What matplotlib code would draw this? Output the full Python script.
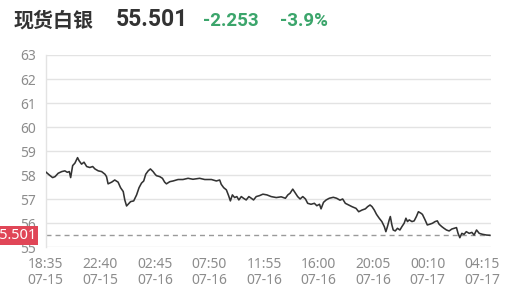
import matplotlib
matplotlib.use("Agg")
import matplotlib.pyplot as plt

# ---- data ----
title_name = "现货白银"
last_price = "55.501"
change = "-2.253"
change_pct = "-3.9%"
ref_value = 55.501

minutes = [1, 16, 31, 42, 56, 72, 86, 97, 106, 112, 121, 131, 143, 150, 161, 172, 184, 198,
           211, 221, 236, 251, 266, 273, 280, 296, 310, 325, 336, 348, 355, 363, 370, 381,
           395, 408, 419, 430, 440, 449, 460, 470, 482, 490, 497, 512, 524, 534, 542, 557,
           572, 594, 616, 639, 661, 691, 714, 744, 766, 781, 788, 799, 811, 821, 829, 838,
           848, 858, 867, 878, 888, 900, 912, 923, 933, 945, 960, 975, 993, 1012, 1035,
           1057, 1076, 1087, 1097, 1109, 1121, 1131, 1142, 1154, 1166, 1176, 1191, 1206,
           1217, 1229, 1236, 1247, 1259, 1273, 1291, 1306, 1321, 1333, 1345, 1360, 1375,
           1393, 1405, 1420, 1435, 1445, 1456, 1465, 1475, 1485, 1497, 1509, 1520, 1527,
           1534, 1542, 1547, 1554, 1560, 1569, 1579, 1590, 1599, 1609, 1617, 1624, 1632,
           1644, 1654, 1664, 1673, 1684, 1691, 1703, 1713, 1724, 1736, 1748, 1758, 1766,
           1778, 1788, 1799, 1811, 1823, 1833, 1844, 1851, 1859, 1868, 1878, 1888, 1901,
           1913, 1923, 1934, 1946, 1961, 1979, 1993]
prices = [58.13, 58.01, 57.90, 57.94, 58.08, 58.15, 58.18, 58.12, 58.15, 57.90, 58.40, 58.50,
          58.73, 58.60, 58.46, 58.54, 58.36, 58.32, 58.36, 58.26, 58.18, 58.15, 58.04, 57.94,
          57.64, 57.71, 57.80, 57.71, 57.48, 57.32, 56.97, 56.72, 56.79, 56.90, 56.93, 57.18,
          57.48, 57.67, 57.76, 58.04, 58.18, 58.26, 58.15, 58.05, 57.98, 57.94, 57.87, 57.71,
          57.64, 57.73, 57.76, 57.82, 57.82, 57.87, 57.83, 57.87, 57.82, 57.82, 57.76, 57.80,
          57.62, 57.48, 57.39, 57.15, 56.93, 57.18, 57.07, 57.11, 56.97, 57.11, 57.04, 56.97,
          57.11, 57.04, 56.97, 57.11, 57.15, 57.21, 57.18, 57.11, 57.07, 57.10, 57.04, 57.18,
          57.25, 57.42, 57.25, 57.11, 57.01, 57.11, 57.01, 56.83, 56.79, 56.83, 56.73, 56.79,
          56.60, 56.87, 56.97, 57.04, 57.08, 57.04, 56.96, 57.01, 56.83, 56.76, 56.69, 56.62,
          56.48, 56.55, 56.60, 56.69, 56.76, 56.69, 56.55, 56.37, 56.21, 56.07, 55.86, 55.65,
          55.86, 56.14, 56.28, 55.93, 55.72, 55.68, 55.79, 55.72, 55.86, 56.00, 56.21, 56.07,
          56.14, 56.07, 56.10, 56.28, 56.48, 56.42, 56.37, 56.14, 55.93, 55.96, 56.00, 56.07,
          56.10, 55.96, 55.86, 55.79, 55.72, 55.68, 55.76, 55.79, 55.82, 55.58, 55.40, 55.58,
          55.54, 55.65, 55.58, 55.62, 55.51, 55.72, 55.58, 55.54, 55.51, 55.501]

xtick_minutes = [0, 245, 490, 735, 980, 1225, 1470, 1715, 1960]
xtick_labels = ["18:35\n07-15", "22:40\n07-15", "02:45\n07-16", "07:50\n07-16", "11:55\n07-16",
                "16:00\n07-16", "20:05\n07-16", "00:10\n07-17", "04:15\n07-17"]
yticks = [55, 56, 57, 58, 59, 60, 61, 62, 63]

# ---- style ----
W, H = 511, 293
fig = plt.figure(figsize=(W / 100, H / 100), dpi=100)
plt.rcParams['font.family'] = ['Noto Sans', 'DejaVu Sans']

left_px, right_px, top_px, bot_px = 45.7, 490.8, 55.0, 247.3
ax = fig.add_axes([left_px / W, 1 - bot_px / H, (right_px - left_px) / W, (bot_px - top_px) / H])
ax.set_xlim(0, 1998)
ax.set_ylim(55, 63)

grid_c = '#e3e3e3'
for s in ['top', 'right', 'bottom']:
    ax.spines[s].set_visible(False)
ax.spines['left'].set_color(grid_c)
ax.spines['left'].set_linewidth(1.0)
ax.set_yticks(yticks)
ax.yaxis.grid(True, color=grid_c, linewidth=1.0)
ax.set_axisbelow(True)
ax.tick_params(axis='both', length=0, labelcolor='#8c8c8c', labelsize=10)
ax.tick_params(axis='y', pad=7)
ax.tick_params(axis='x', pad=7)
ax.set_xticks(xtick_minutes)
ax.set_xticklabels(xtick_labels, linespacing=1.05)

ax.plot(minutes, prices, color='#333333', lw=1.15, solid_joinstyle='round', zorder=3)
ax.axhline(ref_value, color='#9a9a9a', lw=1.0, dashes=(3.6, 2.9), zorder=2)

# red price tag on the left (partly cut off by the figure edge, as in the original)
ax.text(-0.0218, ref_value, last_price, transform=ax.get_yaxis_transform(), ha='right', va='center',
        color='white', fontsize=10.5, zorder=5, clip_on=False,
        bbox=dict(boxstyle='square,pad=0.12', fc='#e04657', ec='none'))

# title
yb = 1 - 26.5 / H
fig.text(14 / W, yb, title_name, ha='left', va='baseline', fontsize=14.4, fontweight='bold',
         color='#333333', family=['Noto Sans CJK SC', 'DejaVu Sans'])
fig.text(116 / W, yb, last_price, ha='left', va='baseline', fontsize=16.5, fontweight='bold',
         color='#333333', family=['Roboto', 'DejaVu Sans'])
fig.text(203 / W, yb, change, ha='left', va='baseline', fontsize=13.5, fontweight='bold',
         color='#3ba56b', family=['Roboto', 'DejaVu Sans'])
fig.text(280 / W, yb, change_pct, ha='left', va='baseline', fontsize=13.5, fontweight='bold',
         color='#3ba56b', family=['Roboto', 'DejaVu Sans'])

fig.savefig('out.png', dpi=100)
